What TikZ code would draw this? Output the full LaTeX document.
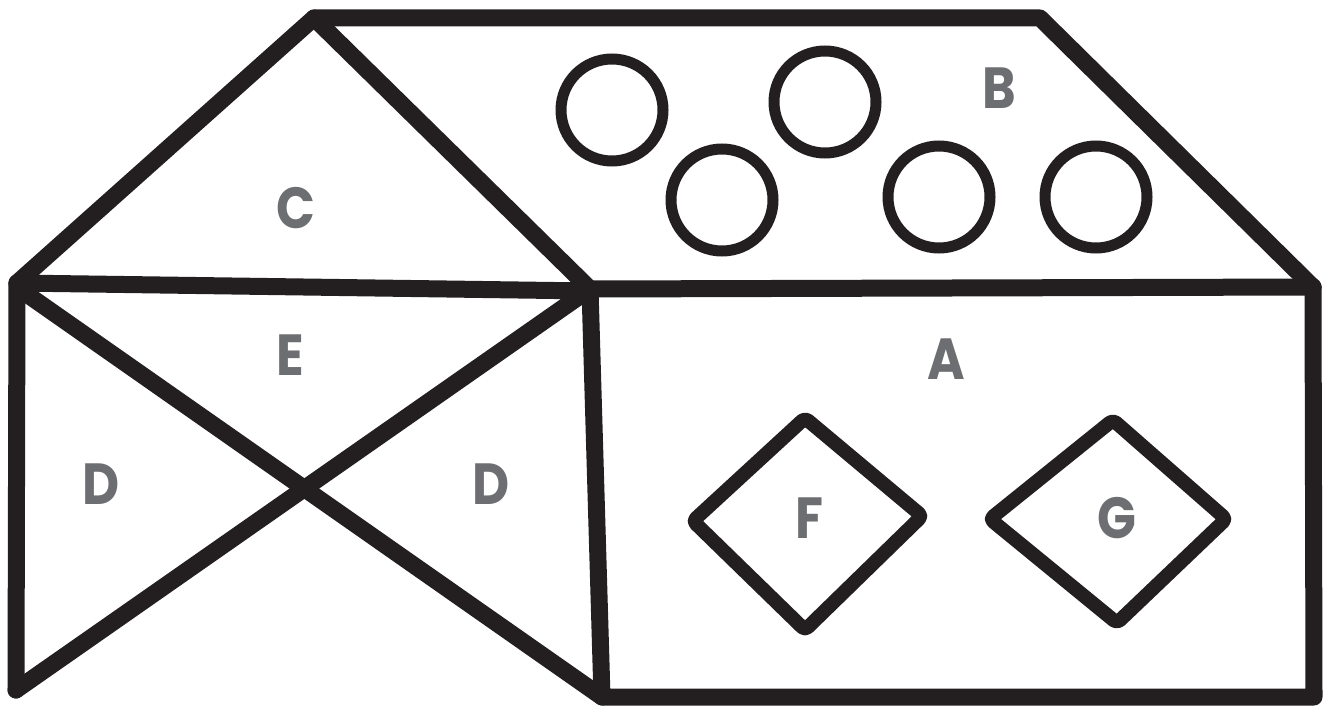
\documentclass[tikz,border=0pt]{standalone}
\usepackage{fontspec}
\newfontfamily\labfont{Poppins}[FakeStretch=0.88]
\definecolor{ink}{HTML}{231F20}
\definecolor{labgray}{HTML}{6D6E71}
\begin{document}
\begin{tikzpicture}[x=1pt,y=-1pt,
  wall/.style={draw=ink,line width=17pt,line cap=round,line join=round},
  ball/.style={draw=ink,line width=11pt},
  gem/.style={draw=ink,line width=14pt,line join=round,rounded corners=4pt},
  lab/.style={text=labgray,inner sep=0pt,font=\labfont\bfseries\fontsize{58}{60}\selectfont}]
\useasboundingbox (0,0) rectangle (1325,706);
% vertices
\coordinate (Lt) at (17,283);
\coordinate (T) at (314,18);
\coordinate (TR) at (1040,18);
\coordinate (R) at (1313,287);
\coordinate (M) at (590,289);
\coordinate (Cb) at (590,291);
\coordinate (LB) at (16,690);
\coordinate (LX) at (18,288);
\coordinate (ABL) at (602,697);
\coordinate (ABR) at (1314,697);
% outline
\draw[wall] (Lt) -- (T) -- (TR) -- (R);
\draw[wall] (T) -- (M);
\draw[wall] (M) -- (R);
\draw[wall] (Lt) -- (Cb);
\draw[wall] (Lt) -- (LB);
\draw[wall] (LX) -- (ABL);
\draw[wall] (LB) -- (M);
\draw[wall] (M) -- (ABL) -- (ABR) -- (R);
% circles
\draw[ball] (612,110) circle[radius=51pt];
\draw[ball] (825,102) circle[radius=51pt];
\draw[ball] (722,200) circle[radius=51pt];
\draw[ball] (939,197) circle[radius=51pt];
\draw[ball] (1096,197) circle[radius=51pt];
% diamonds
\draw[gem] (805,418) -- (922,516) -- (805,630) -- (693,521) -- cycle;
\draw[gem] (1113,420) -- (1226,519) -- (1117,623) -- (990,519) -- cycle;
% labels
\node[lab] (la) at (946,359) {A};
\node[lab] (lb) at (999,88) {B};
\node[lab] (lc) at (296,208) {C};
\node[lab] (ld1) at (101,484) {D};
\node[lab] (ld2) at (491,484) {D};
\node[lab] (le) at (290,355) {E};
\node[lab] (lf) at (809,518) {F};
\node[lab] (lg) at (1117,518) {G};
\end{tikzpicture}
\end{document}
